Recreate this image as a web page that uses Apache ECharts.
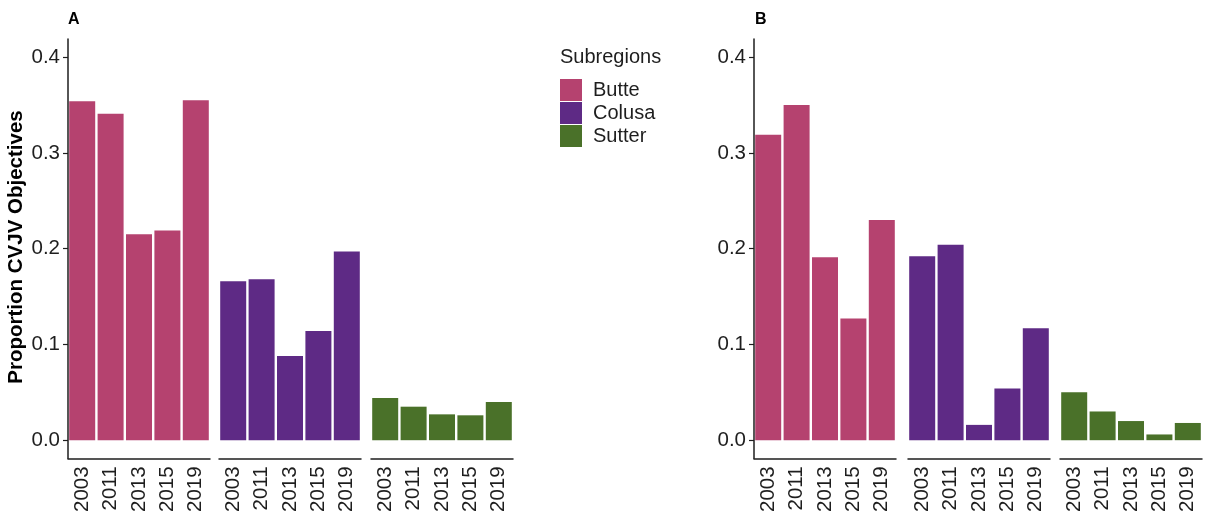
<!DOCTYPE html>
<html>
<head>
<meta charset="utf-8">
<script src="https://cdn.jsdelivr.net/npm/echarts@6/dist/echarts.min.js"></script>
<style>
  html, body { margin: 0; padding: 0; background: #fff; }
  #chart { width: 1215px; height: 515px; }
</style>
</head>
<body>
<div id="chart"></div>
<script>
const years = ['2003', '2011', '2013', '2015', '2019']
const subregions = ['Butte', 'Colusa', 'Sutter']
const yTicks = [0, 0.1, 0.2, 0.3, 0.4]

// panel A
const aButte = [0.354, 0.341, 0.215, 0.219, 0.355]
const aColusa = [0.166, 0.168, 0.088, 0.114, 0.197]
const aSutter = [0.044, 0.035, 0.027, 0.026, 0.040]

// panel B
const bButte = [0.319, 0.350, 0.191, 0.127, 0.230]
const bColusa = [0.192, 0.204, 0.016, 0.054, 0.117]
const bSutter = [0.050, 0.030, 0.020, 0.006, 0.018]

const colors = ['#b5426f', '#5e2a85', '#4a7129']
const font = 'Liberation Sans, Arial, sans-serif'
const ink = '#1e1e1e'

const panels = [
  { label: 'A', data: [aButte, aColusa, aSutter], lefts: [68, 219, 371] },
  { label: 'B', data: [bButte, bColusa, bSutter], lefts: [754, 908, 1060] }
]

const grid = []
const xAxis = []
const yAxis = []
const series = []

panels.forEach(p => {
  p.data.forEach((vals, j) => {
    const idx = grid.length
    grid.push({ left: p.lefts[j], width: 142, top: 39, height: 420 })
    xAxis.push({
      type: 'category',
      gridIndex: idx,
      data: years,
      axisLine: { onZero: false, lineStyle: { color: ink, width: 1.5 } },
      axisTick: { alignWithLabel: true, length: 5, lineStyle: { color: ink, width: 1.2 } },
      axisLabel: { rotate: 90, fontSize: 20.5, margin: 8, color: ink, fontFamily: font }
    })
    yAxis.push({
      type: 'value',
      gridIndex: idx,
      min: -0.019,
      max: 0.419,
      show: j === 0,
      splitLine: { show: false },
      axisLine: { show: true, lineStyle: { color: ink, width: 1.5 } },
      axisTick: { show: true, length: 5, customValues: yTicks, lineStyle: { color: ink, width: 1.2 } },
      axisLabel: {
        customValues: yTicks,
        fontSize: 20.5,
        margin: 8,
        color: ink,
        fontFamily: font,
        formatter: v => v.toFixed(1)
      }
    })
    series.push({
      type: 'bar',
      name: subregions[j],
      xAxisIndex: idx,
      yAxisIndex: idx,
      barWidth: 26,
      itemStyle: { color: colors[j] },
      data: vals
    })
  })
})

const chart = echarts.init(document.getElementById('chart'), null, { renderer: 'canvas' })
chart.setOption({
  animation: false,
  backgroundColor: '#fff',
  color: colors,
  grid: grid,
  xAxis: xAxis,
  yAxis: yAxis,
  series: series,
  legend: {
    data: subregions,
    orient: 'vertical',
    left: 560,
    top: 79,
    padding: 0,
    itemWidth: 22,
    itemHeight: 22,
    itemGap: 1,
    icon: 'rect',
    selectedMode: false,
    textStyle: { fontSize: 20, color: ink, fontFamily: font, padding: [0, 0, 0, 6] }
  },
  graphic: [
    { type: 'text', left: 560, top: 47, style: { text: 'Subregions', fontSize: 20, fill: ink, fontFamily: font } },
    { type: 'text', left: 68, top: 12, style: { text: 'A', fontSize: 16, fontWeight: 'bold', fill: '#000', fontFamily: font } },
    { type: 'text', left: 755, top: 12, style: { text: 'B', fontSize: 16, fontWeight: 'bold', fill: '#000', fontFamily: font } },
    {
      type: 'text',
      x: 16.5,
      y: 247,
      rotation: Math.PI / 2,
      style: {
        text: 'Proportion CVJV Objectives',
        fontSize: 20.5,
        fontWeight: 'bold',
        fill: '#000',
        fontFamily: font,
        align: 'center',
        verticalAlign: 'middle'
      }
    }
  ]
})
</script>
</body>
</html>
